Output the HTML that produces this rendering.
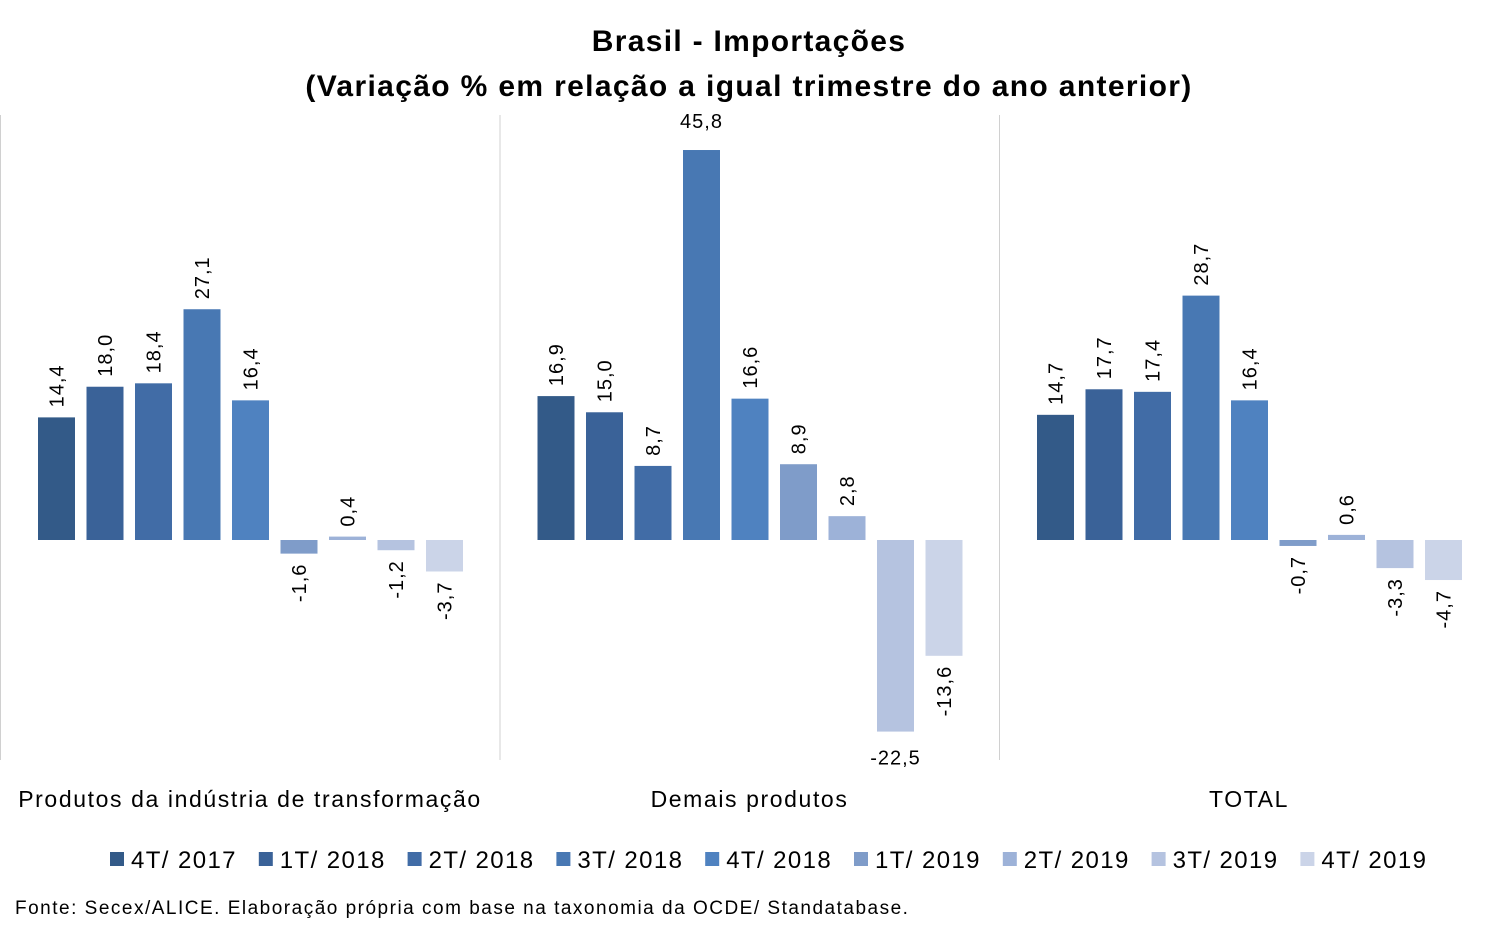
<!DOCTYPE html>
<html><head><meta charset="utf-8"><style>
body{margin:0;background:#fff;}
svg text{font-family:"Liberation Sans",sans-serif;fill:#000;}
</style></head><body>
<svg id="c" width="1498" height="929" xmlns="http://www.w3.org/2000/svg">
<text x="749" y="51" text-anchor="middle" font-size="30" font-weight="bold" letter-spacing="1.3">Brasil - Importações</text>
<text x="749" y="96" text-anchor="middle" font-size="30" font-weight="bold" letter-spacing="1.35">(Variação % em relação a igual trimestre do ano anterior)</text>
<g id="plot"></g>
<g id="legend"></g>
<text x="15" y="914" font-size="19" letter-spacing="1.5">Fonte: Secex/ALICE. Elaboração própria com base na taxonomia da OCDE/ Standatabase.</text>
</svg>
<script>
const groups=["Produtos da indústria de transformação","Demais produtos","TOTAL"];
const seriesNames=["4T/ 2017","1T/ 2018","2T/ 2018","3T/ 2018","4T/ 2018","1T/ 2019","2T/ 2019","3T/ 2019","4T/ 2019"];
const valuesIndustria=[14.4,18.0,18.4,27.1,16.4,-1.6,0.4,-1.2,-3.7];
const valuesDemais=[16.9,15.0,8.7,45.8,16.6,8.9,2.8,-22.5,-13.6];
const valuesTotal=[14.7,17.7,17.4,28.7,16.4,-0.7,0.6,-3.3,-4.7];
const colors=["#335a88","#3a6298","#416ca6","#4878b3","#4f82c0","#7f9cc9","#9db2d8","#b5c3e0","#cbd4e8"];
const allValues=[valuesIndustria,valuesDemais,valuesTotal];
const NS="http://www.w3.org/2000/svg";
const zeroY=540, pxPer=8.515, plotTop=115, plotBot=760;
const y=v=>zeroY-v*pxPer;
const groupX=g=>g*499.5, barX=(g,i)=>groupX(g)+38+i*48.5, barW=37;
const plot=document.getElementById('plot');
function mk(tag,attrs,parent){const e=document.createElementNS(NS,tag);for(const k in attrs)e.setAttribute(k,attrs[k]);parent.appendChild(e);return e;}
for(let g=0;g<3;g++){
  const sep=mk('line',{x1:groupX(g)+0.5,x2:groupX(g)+0.5,y1:plotTop,y2:plotBot,stroke:'#d0d0d0','stroke-width':1},plot);
  
  
  const gl=mk('text',{x:groupX(g)+250,y:807,'text-anchor':'middle','font-size':23,'letter-spacing':1.6},plot);
  gl.textContent=groups[g];
  
  
  allValues[g].forEach((v,i)=>{
    const x=barX(g,i), top=Math.min(y(v),zeroY), h=Math.abs(y(v)-zeroY);
    const r=mk('rect',{x:x,y:top,width:barW,height:Math.max(h,1),fill:colors[i]},plot);
    
    
    const txt=v.toFixed(1).replace('.',',');
    const cx=x+barW/2;
    let t;
    if(v>=0){
      if(y(v)-48<plotTop){t=mk('text',{x:cx,y:y(v)-22,'text-anchor':'middle','font-size':20,'letter-spacing':1},plot);}
      else{t=mk('text',{x:cx+7,y:y(v)-10,'text-anchor':'start','font-size':20,'letter-spacing':1,transform:`rotate(-90 ${cx+7} ${y(v)-10})`},plot);}
    }else{
      if(y(v)+48>plotBot){t=mk('text',{x:cx,y:y(v)+33,'text-anchor':'middle','font-size':20,'letter-spacing':1},plot);}
      else{t=mk('text',{x:cx+7,y:y(v)+10,'text-anchor':'end','font-size':20,'letter-spacing':1,transform:`rotate(-90 ${cx+7} ${y(v)+10})`},plot);}
    }
    t.textContent=txt;
    
    
  });
}
const lg=document.getElementById('legend');
seriesNames.forEach((n,i)=>{
  const lx=110+i*148.8;
  const s=mk('rect',{x:lx,y:852,width:14,height:14,fill:colors[i]},lg);
  
  
  const t=mk('text',{x:lx+21,y:868,'font-size':24,'letter-spacing':1.4},lg);
  t.textContent=n;
  
  
});
</script>
</body></html>
